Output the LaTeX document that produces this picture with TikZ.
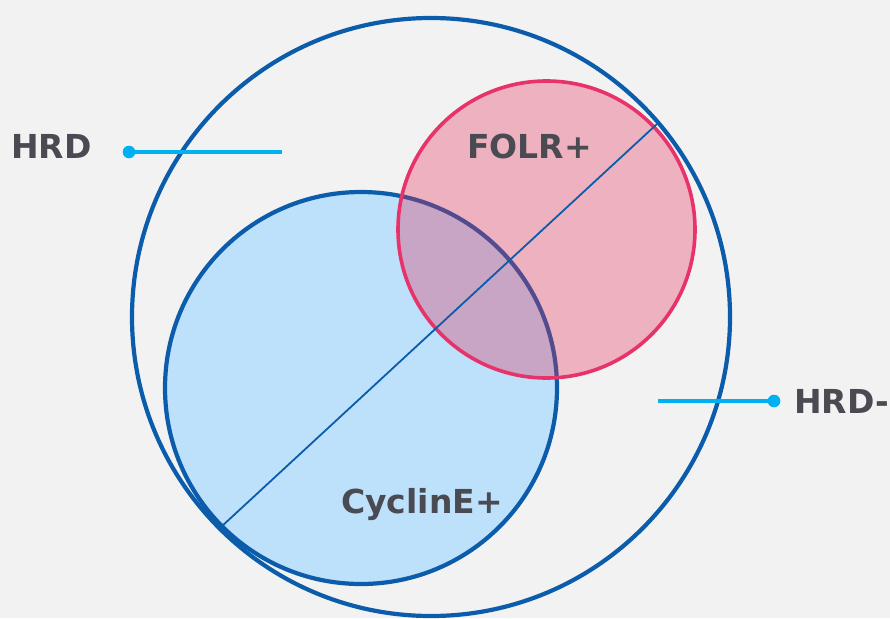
\documentclass[tikz,border=0pt]{standalone}
\usepackage{fontspec}
\setmainfont{DejaVu Sans}
\usepackage{tikz}

\definecolor{bggray}{RGB}{242,242,242}
\definecolor{ringblue}{RGB}{11,92,171}
\definecolor{cycfill}{RGB}{189,224,251}
\definecolor{folrpink}{RGB}{227,45,88}
\definecolor{folrline}{RGB}{232,51,106}
\definecolor{leadcyan}{RGB}{0,176,240}
\definecolor{labelgray}{RGB}{74,74,82}

\begin{document}
\begin{tikzpicture}[x=1pt,y=-1pt,
  set/.style={circle,inner sep=0pt},
  lbl/.style={anchor=base west,inner sep=0pt,text=labelgray,
    font=\bfseries\fontsize{33}{34}\selectfont},
  lead/.style={leadcyan,line width=3.4pt}]
  \useasboundingbox[fill=bggray] (0,0) rectangle (890,618);
  % sets
  \node[set,draw=ringblue,line width=4.2pt,minimum size=598pt] (hrd) at (431,317) {};
  \node[set,draw=ringblue,fill=cycfill,line width=4.2pt,minimum size=392pt] (cyc) at (361,388) {};
  \node[set,draw=folrline,fill=folrpink,fill opacity=0.33,line width=3.6pt,minimum size=297pt] (folr) at (546.5,229.5) {};
  \coordinate (lo) at (221,527);
  \coordinate (hi) at (657,124);
  \draw[ringblue,line width=1.8pt] (lo) -- (hi);
  % labels
  \node[lbl] (folrtxt) at (467,158) {FOLR+};
  \node[lbl] (cyctxt) at (341,513) {CyclinE+};
  \node[lbl] (hrdtxt) at (11,158) {HRD};
  \node[lbl] (nottxt) at (794,413) {HRD-};
  \coordinate (hrddot) at (129,152);
  \coordinate (hrdend) at (282,152);
  \coordinate (notdot) at (774,401);
  \coordinate (notend) at (658,401);
  \draw[lead] (hrddot) -- (hrdend);
  \draw[lead] (notend) -- (notdot);
  \fill[leadcyan] (hrddot) circle (6.3pt);
  \fill[leadcyan] (notdot) circle (6.3pt);
\end{tikzpicture}
\end{document}
